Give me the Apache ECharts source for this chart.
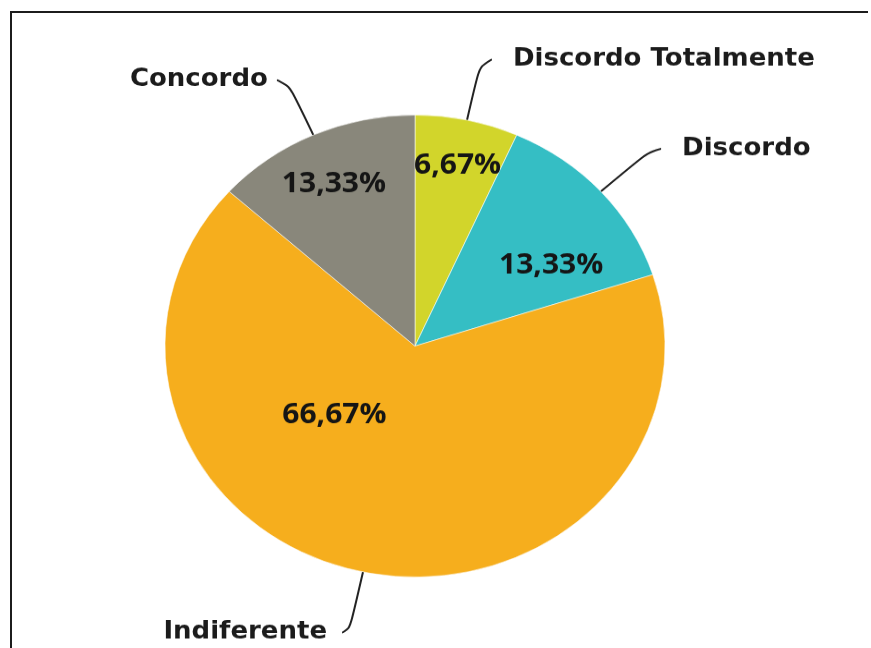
<!DOCTYPE html>
<html>
<head>
<meta charset="utf-8">
<title>Distribuição das respostas</title>
<script src="https://cdn.jsdelivr.net/npm/echarts@6/dist/echarts.min.js"></script>
<style>
  html, body { margin: 0; padding: 0; background: #ffffff; overflow: hidden; }
  #frame {
    position: absolute; left: 10px; top: 11px; width: 856px; height: 700px;
    border-top: 2px solid #1c1c1c; border-left: 2px solid #1c1c1c;
    pointer-events: none; z-index: 2;
  }
  /* the pie is slightly flattened vertically */
  #chart {
    position: absolute; left: 0; top: 0; width: 871px; height: 701px;
    transform: scaleY(0.924); transform-origin: 0 0;
  }
</style>
</head>
<body>
<div id="chart"></div>
<div id="frame"></div>
<script>
// Categories and shares (%)
const categories = ['Discordo Totalmente', 'Discordo', 'Indiferente', 'Concordo'];
const shares = [6.67, 13.33, 66.67, 13.33];
const sliceColors = ['#d2d52b', '#35bec4', '#f6ae1d', '#89877b'];

// Leader line tuning per category: [radial length, horizontal length, gap to text]
const leader = [[67, 11, 21], [69, 9, 21], [67, 7, 15], [65, 10, 9]];
// Nudges for the percentage labels inside the slices
const innerNudge = [[16, -70], [41, -1], [-54, -50], [-29, -58]];

const fmtPct = v => v.toFixed(2).replace('.', ',') + '%';

const chart = echarts.init(document.getElementById('chart'), null, { renderer: 'canvas' });

const center = [415, 374.5];
const radius = 250;

const outerData = categories.map((name, i) => ({
  name: name,
  value: shares[i],
  itemStyle: { color: sliceColors[i] },
  label: { distanceToLabelLine: leader[i][2] },
  labelLine: { length: leader[i][0], length2: leader[i][1] }
}));

const innerData = categories.map((name, i) => ({ name: name, value: shares[i] }));

chart.setOption({
  backgroundColor: '#ffffff',
  animation: false,
  series: [
    {
      name: 'fatias',
      type: 'pie',
      center: center,
      radius: radius,
      startAngle: 90,
      clockwise: true,
      avoidLabelOverlap: false,
      silent: true,
      itemStyle: { borderColor: 'rgba(255,255,255,0.55)', borderWidth: 1 },
      label: {
        show: true,
        position: 'outside',
        formatter: '{b}',
        fontFamily: 'DejaVu Sans',
        fontWeight: 'bold',
        fontSize: 26,
        color: '#1b1b1b',
        padding: [6, 0, 0, 0]
      },
      labelLine: {
        show: true,
        smooth: 0.9,
        lineStyle: { color: '#222222', width: 2 }
      },
      data: outerData
    },
    {
      name: 'percentuais',
      type: 'pie',
      center: center,
      radius: radius,
      startAngle: 90,
      clockwise: true,
      avoidLabelOverlap: false,
      silent: true,
      itemStyle: { color: 'rgba(0,0,0,0)' },
      label: {
        show: true,
        position: 'inside',
        formatter: p => fmtPct(p.value),
        fontFamily: 'Open Sans',
        fontWeight: 'bold',
        fontSize: 30,
        color: '#151515'
      },
      labelLine: { show: false },
      labelLayout: p => ({ dx: innerNudge[p.dataIndex][0], dy: innerNudge[p.dataIndex][1] }),
      data: innerData
    }
  ]
});
</script>
</body>
</html>
